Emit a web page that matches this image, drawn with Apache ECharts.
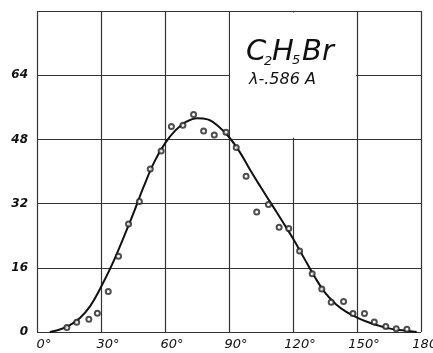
<!DOCTYPE html>
<html>
<head>
<meta charset="utf-8">
<script src="https://cdn.jsdelivr.net/npm/echarts@6/dist/echarts.min.js"></script>
<style>
  html, body { margin: 0; padding: 0; background: #fff; }
  #chart { width: 433px; height: 353px; }
</style>
</head>
<body>
<div id="chart"></div>
<script>
// scattering angle (deg) vs intensity, C2H5Br
const xTicks = [0, 30, 60, 90, 120, 150, 180];
const yTicks = [0, 16, 32, 48, 64];

// measured points (open circles)
const ptAngle = [14, 18.6, 24.3, 28.3, 33.4, 38.2, 42.9, 48, 53.1, 58.2, 63, 68.4, 73.4, 78.1, 83.1, 88.6, 93.4, 98, 103, 108.5, 113.5, 118, 123.1, 129, 133.5, 137.9, 143.7, 148.1, 153.5, 158.1, 163.5, 168.4, 173.4];
const ptValue = [1.1, 2.4, 3.2, 4.7, 10.1, 18.9, 26.9, 32.5, 40.6, 45.1, 51.2, 51.5, 54.2, 50.1, 49.1, 49.8, 46, 38.8, 29.9, 31.8, 26.1, 25.8, 20.2, 14.5, 10.7, 7.4, 7.6, 4.6, 4.6, 2.5, 1.4, 0.8, 0.7];

// theoretical curve (solid line)
const curveAngle = [6, 10, 15, 20, 25, 30, 35, 40, 45, 50, 55, 60, 65, 70, 75, 80, 85, 90, 95, 100, 105, 110, 115, 120, 125, 130, 135, 140, 145, 150, 155, 160, 165, 170, 175, 178];
const curveValue = [0, 0.5, 1.6, 3.4, 6.5, 11.2, 16.6, 22.8, 29.3, 36.2, 42.4, 47.0, 50.3, 52.4, 53.3, 53.0, 51.3, 48.6, 44.9, 40.3, 36.0, 31.8, 27.6, 23.3, 18.6, 13.9, 9.8, 7.0, 5.0, 3.6, 2.5, 1.6, 0.9, 0.5, 0.2, 0];

const chart = echarts.init(document.getElementById('chart'));
const labelFont = 'DejaVu Sans';

chart.setOption({
  backgroundColor: '#fff',
  animation: false,
  grid: { left: 37, right: 12, top: 11, bottom: 21, containLabel: false, outerBoundsMode: 'none' },
  xAxis: {
    type: 'value',
    min: 0, max: 180, interval: 30,
    axisLine: { show: false },
    axisTick: { show: false },
    splitLine: { show: true, lineStyle: { color: '#333', width: 1.2 } },
    axisLabel: {
      showMaxLabel: true,
      hideOverlap: false,
      margin: 6,
      padding: [0, 0, 0, 14],
      fontFamily: labelFont, fontStyle: 'italic', fontSize: 13, color: '#111',
      formatter: (v) => xTicks.includes(v) ? v + '°' : ''
    }
  },
  yAxis: {
    type: 'value',
    min: 0, max: 80, interval: 16,
    axisLine: { show: false },
    axisTick: { show: false },
    splitLine: { show: true, lineStyle: { color: '#333', width: 1.2 } },
    axisLabel: {
      margin: 9,
      fontFamily: labelFont, fontStyle: 'italic', fontWeight: 'bold', fontSize: 12, color: '#111',
      formatter: (v) => yTicks.includes(v) ? String(v) : ''
    }
  },
  series: [
    {
      type: 'line',
      data: curveAngle.map((a, i) => [a, curveValue[i]]),
      smooth: 0.4,
      showSymbol: false,
      lineStyle: { color: '#111', width: 2 },
      z: 3,
      markArea: {
        silent: true,
        itemStyle: { color: '#fff', opacity: 1 },
        data: [[{ coord: [90.5, 48.4] }, { coord: [149.5, 79.6] }]]
      }
    },
    {
      type: 'scatter',
      data: ptAngle.map((a, i) => [a, ptValue[i]]),
      symbol: 'emptyCircle',
      symbolSize: 5,
      itemStyle: { color: '#222', borderWidth: 1 },
      z: 4
    }
  ],
  graphic: {
    elements: [
      { type: 'text', z: 100, left: 246, top: 38, style: { text: 'C', font: 'italic 200 29px "DejaVu Sans"', fill: '#111' } },
      { type: 'text', z: 100, left: 264, top: 55, style: { text: '2', font: 'italic 200 13px "DejaVu Sans"', fill: '#111' } },
      { type: 'text', z: 100, left: 272, top: 38, style: { text: 'H', font: 'italic 200 29px "DejaVu Sans"', fill: '#111' } },
      { type: 'text', z: 100, left: 292, top: 54, style: { text: '5', font: 'italic 200 13px "DejaVu Sans"', fill: '#111' } },
      { type: 'text', z: 100, left: 302, top: 38, style: { text: 'Br', font: 'italic 200 29px "DejaVu Sans"', fill: '#111' } },
      { type: 'text', z: 100, left: 249, top: 72, style: { text: 'λ-.586 A', font: 'italic 16px "DejaVu Sans"', fill: '#111' } }
    ]
  }
});
</script>
</body>
</html>
